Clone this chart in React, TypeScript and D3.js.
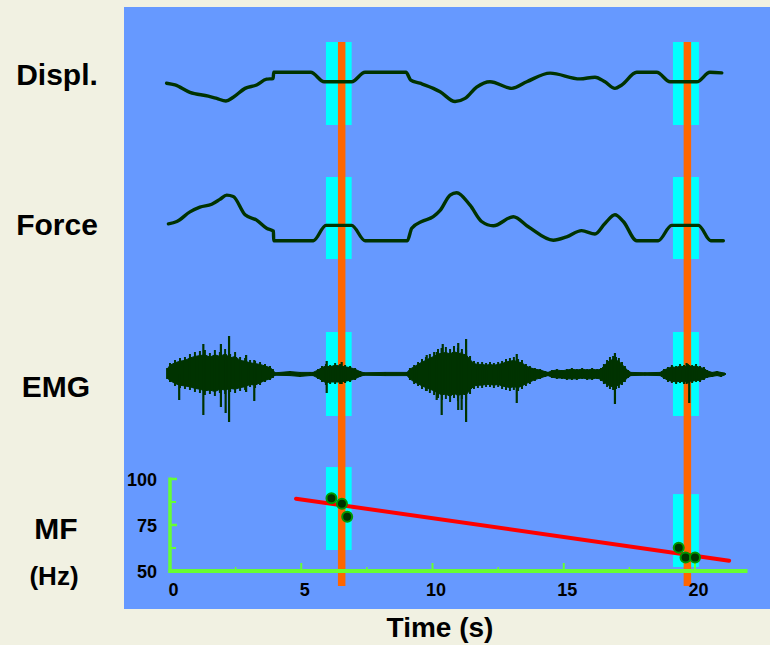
import React from "react";
import * as d3 from "d3";

// ---------- DATA ----------
const displT = [-0.13,0.19,0.76,1.46,1.78,2.13,2.41,2.86,3.30,3.68,3.93,3.95,5.36,5.87,6.92,7.43,8.99,9.17,9.52,10.03,10.29,10.86,11.24,11.68,12.19,13.02,13.59,14.48,15.62,16.19,16.57,16.95,17.21,17.78,18.54,19.05,20.07,20.57,21.02];
const displV = [0.62,0.56,0.30,0.17,0.09,0.00,0.13,0.44,0.56,0.76,0.78,1.0,1.0,0.67,0.67,1.0,1.0,0.73,0.62,0.44,0.32,-0.02,0.09,0.48,0.67,0.44,0.67,0.97,0.77,0.83,0.67,0.44,0.56,1.0,1.0,0.67,0.67,1.0,0.98];

const forceT = [-0.06,0.26,0.76,1.14,1.59,1.90,2.16,2.41,2.86,3.30,3.68,3.94,3.95,5.46,5.94,6.92,7.43,9.04,9.21,9.59,10.03,10.29,10.67,10.92,11.43,11.87,12.32,13.08,13.65,14.60,15.11,15.68,16.19,16.57,16.95,17.27,17.78,18.60,19.11,20.13,20.60,21.08];
const forceV = [0.35,0.40,0.60,0.70,0.76,0.86,0.95,0.92,0.54,0.43,0.26,0.20,0,0,0.32,0.32,0,0,0.26,0.40,0.50,0.63,0.95,1.0,0.74,0.40,0.31,0.50,0.29,0.01,0.08,0.21,0.14,0.36,0.54,0.40,0,0,0.32,0.32,0,0];

// EMG envelope (upper / lower amplitude, a.u.)
const emgT = [-0.11,0,0.19,0.38,0.57,0.76,0.95,1.14,1.33,1.52,1.71,1.90,2.10,2.29,2.48,2.67,2.86,3.05,3.24,3.43,3.62,3.81,3.92,4.00,4.57,4.95,5.33,5.45,5.64,5.79,5.94,6.10,6.29,6.48,6.67,6.86,7.05,7.24,7.39,8.19,9.03,9.14,9.30,9.45,9.60,9.75,9.90,10.06,10.21,10.36,10.51,10.67,10.82,10.97,11.12,11.28,11.43,11.58,11.73,11.89,12.04,12.19,12.34,12.50,12.65,12.80,12.95,13.10,13.26,13.41,13.56,13.71,13.90,14.10,14.29,14.40,14.55,14.74,14.93,15.12,15.31,15.50,15.70,15.89,16.08,16.27,16.42,16.53,16.65,16.76,16.88,16.99,17.10,17.22,17.33,17.45,17.56,18.10,18.67,18.82,18.97,19.12,19.28,19.43,19.58,19.73,19.89,20.04,20.19,20.34,20.46,20.65,20.84,20.99,21.14];
const emgHi = [6,11,14,16,17,20,22,23,24,21,24,22,25,20,22,17,16,14,13,12,10,8,5,1.5,3,2,2,2,5,8,10,9,11,10,9,8,6,3,1.5,2,2,6,9,12,15,17,20,22,25,26,27,25,28,26,25,24,18,13,12,12,11,12,11,12,13,15,16,17,15,14,10,8,6,5,3,2,4,5,4,5,6,5,6,5,6,5,6,10,14,17,18,17,16,12,8,4,2,1.5,2,5,7,9,8,10,9,10,9,10,8,7,4,2,3,2,1];
const emgLo = [5,8,12,14,15,16,18,19,21,20,22,19,20,18,19,17,16,13,14,11,8,6,4,1.5,2,3,2,2,5,8,11,10,10,10,9,8,6,3,1.5,2,2,6,10,12,15,17,19,21,24,26,25,28,24,27,25,26,20,15,14,14,13,13,14,13,15,16,17,16,17,15,12,10,7,5,3,2,4,5,5,6,6,6,5,6,6,5,7,10,13,15,16,15,14,11,8,4,2,1.5,2,5,8,9,10,9,10,9,9,8,8,6,4,3,2,3,1];

// EMG isolated spikes (time, up, down)
const spikeT = [0.35,1.27,1.94,2.12,2.25,2.90,3.21,5.97,6.54,9.78,10.16,10.35,10.39,10.98,11.11,11.28,13.21,16.95,19.68,19.78];
const spikeUp = [0,30,30,20,38,19,14,13,12,19,22,26,30,31,22,35,20,21,11,9];
const spikeDown = [26,41,33,39,48,18,27,19,10,17,26,41,20,36,36,48,29,30,10,29];

// Median frequency
const mfT = [6.15, 6.55, 6.75, 19.38, 19.64, 20.0];
const mfV = [89.5, 86.6, 79.5, 62.7, 57.4, 57.4];
const fitT = [4.8, 21.3];
const fitV = [89.3, 55.6];

// Analysis windows and markers
const winStart = [5.94, 19.16];
const winEnd = [6.92, 20.15];
const markerT = [6.54, 19.71];
const mfWinTop = [106.5, 91.8];
const mfWinBottom = [61.4, 52.2];

const xTicks = [0, 5, 10, 15, 20];
const xMinor = [2.5, 7.5, 12.5, 17.5];
const yTicks = [50, 75, 100];
const yMinor = [62.5, 87.5];

const rowLabels = ["Displ.", "Force", "EMG", "MF"];

// ---------- COLORS ----------
const BG = "#f1f1e2";
const PANEL = "#6699ff";
const CYAN = "#00ffff";
const ORANGE = "#ff6600";
const TRACE = "#003300";
const AXIS = "#66ff33";
const FONT = "'Liberation Sans', Arial, sans-serif";

export default function App() {
  const W = 770, H = 645;
  const x = d3.scaleLinear().domain([0, 22]).range([170, 747.5]);
  const yDispl = d3.scaleLinear().domain([0, 1]).range([101, 72.3]);
  const yForce = d3.scaleLinear().domain([0, 1]).range([240.7, 192.7]);
  const yEmg = d3.scaleLinear().domain([-50, 50]).range([424, 324]);
  const yMf = d3.scaleLinear().domain([50, 100]).range([571, 479]);

  const displLine = d3.line<number>().x((_, i) => x(displT[i])).y(d => yDispl(d)).curve(d3.curveMonotoneX)(displV) || "";
  const forceLine = d3.line<number>().x((_, i) => x(forceT[i])).y(d => yForce(d)).curve(d3.curveMonotoneX)(forceV) || "";
  // dense core of the EMG burst
  const emgCore = d3.area<number>()
    .x((_, i) => x(emgT[i]))
    .y0((_, i) => yEmg(-emgLo[i] * 0.8))
    .y1(d => yEmg(d * 0.8))
    .curve(d3.curveLinear)(emgHi) || "";
  const emgBase = d3.line<number>().x(d => x(d)).y(() => yEmg(0))([emgT[0], emgT[emgT.length - 1]]) || "";

  const bands = [
    [42, 125],
    [177, 259],
    [332, 416],
  ];

  return (
    <svg width={W} height={H} style={{ position: "fixed", left: 0, top: 0, display: "block" }} fontFamily={FONT}>
      <rect x={0} y={0} width={W} height={H} fill={BG} />
      <rect x={124} y={7} width={W - 124} height={602} fill={PANEL} />

      {/* cyan windows */}
      {winStart.map((s, i) => (
        <g key={"w" + i}>
          {bands.map((b, j) => (
            <rect key={j} x={x(s)} y={b[0]} width={x(winEnd[i]) - x(s)} height={b[1] - b[0]} fill={CYAN} />
          ))}
          <rect x={x(s)} y={yMf(mfWinTop[i])} width={x(winEnd[i]) - x(s)} height={yMf(mfWinBottom[i]) - yMf(mfWinTop[i])} fill={CYAN} />
        </g>
      ))}

      {/* orange markers */}
      {markerT.map((t, i) => (
        <line key={"m" + i} x1={x(t)} x2={x(t)} y1={42} y2={586} stroke={ORANGE} strokeWidth={7.5} />
      ))}

      {/* traces */}
      <path d={displLine} fill="none" stroke={TRACE} strokeWidth={3.4} strokeLinejoin="round" strokeLinecap="round" />
      <path d={forceLine} fill="none" stroke={TRACE} strokeWidth={3.4} strokeLinejoin="round" strokeLinecap="round" />
      <path d={emgBase} fill="none" stroke={TRACE} strokeWidth={2.5} />
      <path d={emgCore} fill={TRACE} stroke={TRACE} strokeWidth={1} />
      {emgT.map((t, i) => (
        <line key={"e" + i} x1={x(t)} x2={x(t)} y1={yEmg(emgHi[i])} y2={yEmg(-emgLo[i])} stroke={TRACE} strokeWidth={2} />
      ))}
      {spikeT.map((t, i) => (
        <line key={"s" + i} x1={x(t)} x2={x(t)} y1={yEmg(spikeUp[i])} y2={yEmg(-spikeDown[i])} stroke={TRACE} strokeWidth={2.2} />
      ))}

      {/* MF axes */}
      <line x1={x(0)} x2={x(0)} y1={yMf(100) - 1.5} y2={yMf(50) + 2} stroke={AXIS} strokeWidth={3.5} />
      <line x1={x(0) - 1.5} x2={x(22)} y1={yMf(50)} y2={yMf(50)} stroke={AXIS} strokeWidth={4} />
      {yTicks.filter(v => v > 50).map(v => (
        <line key={"yt" + v} x1={x(0)} x2={x(0) + 7} y1={yMf(v)} y2={yMf(v)} stroke={AXIS} strokeWidth={2.5} />
      ))}
      {yMinor.map(v => (
        <line key={"ym" + v} x1={x(0)} x2={x(0) + 6} y1={yMf(v)} y2={yMf(v)} stroke={AXIS} strokeWidth={2} />
      ))}
      {xTicks.filter(v => v > 0).map(v => (
        <line key={"xt" + v} x1={x(v)} x2={x(v)} y1={yMf(50) - 8} y2={yMf(50)} stroke={AXIS} strokeWidth={2} />
      ))}
      {xMinor.map(v => (
        <line key={"xm" + v} x1={x(v)} x2={x(v)} y1={yMf(50) - 4} y2={yMf(50)} stroke={AXIS} strokeWidth={1.5} />
      ))}
      {yTicks.map(v => (
        <text key={"yl" + v} x={157} y={yMf(v) + 6.5} textAnchor="end" fontSize={18} fontWeight="bold" fill="#000">{v}</text>
      ))}
      {xTicks.map(v => (
        <text key={"xl" + v} x={x(v) + 3.5} y={596} textAnchor="middle" fontSize={18} fontWeight="bold" fill="#000">{v}</text>
      ))}

      {/* regression line */}
      <line x1={x(fitT[0])} y1={yMf(fitV[0])} x2={x(fitT[1])} y2={yMf(fitV[1])} stroke="#ff0000" strokeWidth={4} strokeLinecap="round" />

      {/* MF points */}
      {mfT.map((t, i) => (
        <circle key={"p" + i} cx={x(t)} cy={yMf(mfV[i])} r={5} fill={TRACE} stroke="#009900" strokeWidth={2} />
      ))}

      {/* labels */}
      <g fontWeight="bold" fill="#000" textAnchor="middle">
        <text x={57} y={85} fontSize={30}>{rowLabels[0]}</text>
        <text x={57} y={235} fontSize={30}>{rowLabels[1]}</text>
        <text x={56} y={397} fontSize={30}>{rowLabels[2]}</text>
        <text x={56} y={539} fontSize={30}>{rowLabels[3]}</text>
        <text x={54} y={585} fontSize={26}>(Hz)</text>
        <text x={440} y={637} fontSize={28}>Time (s)</text>
      </g>
    </svg>
  );
}
